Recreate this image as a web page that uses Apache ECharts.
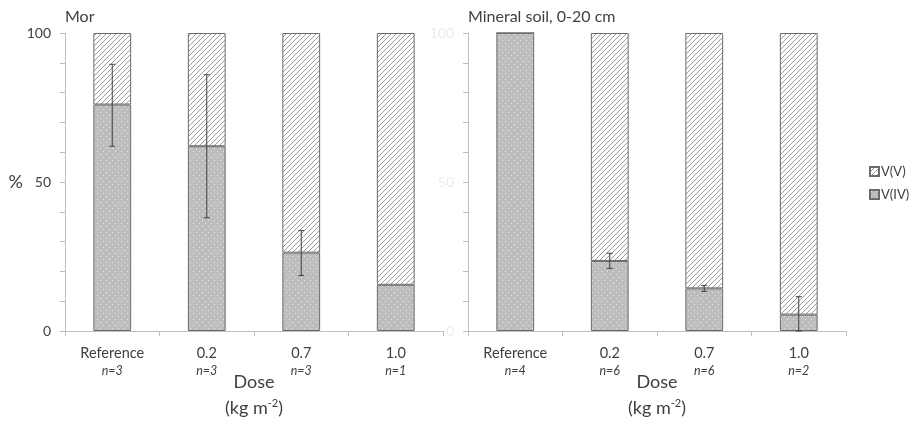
<!DOCTYPE html>
<html>
<head>
<meta charset="utf-8">
<script src="https://cdn.jsdelivr.net/npm/echarts@6/dist/echarts.min.js"></script>
<style>
  html, body { margin: 0; padding: 0; background: #fff; }
  #chart { width: 914px; height: 421px; }
</style>
</head>
<body>
<div id="chart"></div>
<script>
// categories and sample sizes
var doses = ['Reference', '0.2', '0.7', '1.0'];
var morN = ['n=3', 'n=3', 'n=3', 'n=1'];
var minN = ['n=4', 'n=6', 'n=6', 'n=2'];

// V(IV) share (%) and the V(V) remainder
var morIV = [76, 62, 26.3, 15.5];
var morV = [24, 38, 73.7, 84.5];
var minIV = [100, 23.5, 14.3, 5.5];
var minV = [0, 76.5, 85.7, 94.5];

// error bars [low, high]
var morErr = [[62, 89.5], [38, 86], [18.6, 33.7], null];
var minErr = [null, [21, 26.1], [13.3, 15.3], [0, 11.5]];

var yTicks = [0, 50, 100];

var font = 'Lato';
var textColor = '#404040';

// fill patterns
function hatchPattern() {
  var c = document.createElement('canvas');
  c.width = 5; c.height = 5;
  var ctx = c.getContext('2d');
  ctx.fillStyle = '#ffffff';
  ctx.fillRect(0, 0, 5, 5);
  ctx.strokeStyle = '#9a9a9a';
  ctx.lineWidth = 1;
  ctx.beginPath();
  ctx.moveTo(-1, 6); ctx.lineTo(6, -1);
  ctx.moveTo(-1, 1); ctx.lineTo(1, -1);
  ctx.moveTo(4, 6); ctx.lineTo(6, 4);
  ctx.stroke();
  return c;
}
function dotPattern() {
  var c = document.createElement('canvas');
  c.width = 6; c.height = 6;
  var ctx = c.getContext('2d');
  ctx.fillStyle = '#bdbdbd';
  ctx.fillRect(0, 0, 6, 6);
  ctx.fillStyle = '#e6e6e6';
  ctx.fillRect(1, 1, 1, 1);
  ctx.fillRect(4, 4, 1, 1);
  return c;
}
var hatch = { image: hatchPattern(), repeat: 'repeat' };
var dots = { image: dotPattern(), repeat: 'repeat' };

function errData(err) {
  var out = [];
  err.forEach(function (e, i) { if (e) out.push([i, e[0], e[1]]); });
  return out;
}

function errSeries(idx, err) {
  return {
    type: 'custom',
    xAxisIndex: idx, yAxisIndex: idx,
    z: 10,
    silent: true,
    data: errData(err),
    renderItem: function (params, api) {
      var x = api.value(0);
      var lo = api.coord([x, api.value(1)]);
      var hi = api.coord([x, api.value(2)]);
      var cap = 3;
      var style = { stroke: '#404040', lineWidth: 1 };
      return {
        type: 'group',
        children: [
          { type: 'line', shape: { x1: lo[0], y1: lo[1], x2: hi[0], y2: hi[1] }, style: style },
          { type: 'line', shape: { x1: hi[0] - cap, y1: hi[1], x2: hi[0] + cap, y2: hi[1] }, style: style },
          { type: 'line', shape: { x1: lo[0] - cap, y1: lo[1], x2: lo[0] + cap, y2: lo[1] }, style: style }
        ]
      };
    }
  };
}

function xAxis(idx, ns) {
  return {
    type: 'category',
    gridIndex: idx,
    data: doses,
    axisLine: { lineStyle: { color: '#bfbfbf' } },
    axisTick: { show: true, length: 5, lineStyle: { color: '#bfbfbf' } },
    axisLabel: {
      margin: 13,
      formatter: function (v, i) { return v + '\n{n|' + ns[i] + '}'; },
      color: textColor, fontFamily: font, fontSize: 14.5, lineHeight: 18,
      rich: { n: { fontStyle: 'italic', fontSize: 12.5, color: textColor, fontFamily: font, lineHeight: 18 } }
    },
    name: 'Dose\n{p|(kg m}{s|-2}{p|)}',
    nameLocation: 'middle',
    nameGap: 38,
    nameMoveOverlap: false,
    nameTextStyle: {
      color: textColor, fontFamily: font, fontSize: 18, lineHeight: 26,
      rich: {
        p: { fontSize: 18, fontFamily: font, color: textColor, lineHeight: 26 },
        s: { fontSize: 11, fontFamily: font, color: textColor, lineHeight: 26, padding: [0, 0, 10, 0] }
      }
    }
  };
}

function yAxis(idx, labelColor) {
  return {
    type: 'value',
    gridIndex: idx,
    min: 0, max: 100, interval: 10,
    axisLine: { show: true, lineStyle: { color: '#bfbfbf' } },
    axisTick: { show: true, length: 5, lineStyle: { color: '#bfbfbf' } },
    splitLine: { show: false },
    axisLabel: {
      color: labelColor, fontFamily: font, fontSize: 14, margin: 14,
      formatter: function (v) { return yTicks.indexOf(v) >= 0 ? String(v) : ''; }
    },
    name: idx === 0 ? '%' : '',
    nameLocation: 'middle',
    nameRotate: 0,
    nameGap: 42,
    nameMoveOverlap: false,
    nameTextStyle: { color: textColor, fontFamily: font, fontSize: 18 }
  };
}

function barSeries(name, idx, values, fill) {
  return {
    name: name,
    type: 'bar',
    stack: 's' + idx,
    xAxisIndex: idx, yAxisIndex: idx,
    barWidth: '40%',
    data: values,
    itemStyle: { color: fill, borderColor: '#6b6b6b', borderWidth: 1 }
  };
}

var chart = echarts.init(document.getElementById('chart'));
chart.setOption({
  animation: false,
  title: [
    { text: 'Mor', left: 60, top: 4, textStyle: { fontFamily: font, fontSize: 16, fontWeight: 'normal', color: textColor } },
    { text: 'Mineral soil, 0-20 cm', left: 463, top: 4, textStyle: { fontFamily: font, fontSize: 16, fontWeight: 'normal', color: textColor } }
  ],
  legend: {
    orient: 'vertical',
    left: 864, top: 160,
    itemWidth: 9, itemHeight: 9, itemGap: 10,
    icon: 'rect',
    data: ['V(V)', 'V(IV)'],
    textStyle: { fontFamily: font, fontSize: 13, color: textColor, padding: [0, 0, 0, -3] }
  },
  grid: [
    { left: 65, right: 471, top: 33, bottom: 90, containLabel: false, outerBoundsMode: 'none' },
    { left: 468, right: 68, top: 33, bottom: 90, containLabel: false, outerBoundsMode: 'none' }
  ],
  xAxis: [xAxis(0, morN), xAxis(1, minN)],
  yAxis: [yAxis(0, textColor), yAxis(1, '#ececec')],
  series: [
    barSeries('V(IV)', 0, morIV, dots),
    barSeries('V(V)', 0, morV, hatch),
    barSeries('V(IV)', 1, minIV, dots),
    barSeries('V(V)', 1, minV, hatch),
    errSeries(0, morErr),
    errSeries(1, minErr)
  ]
});
</script>
</body>
</html>
